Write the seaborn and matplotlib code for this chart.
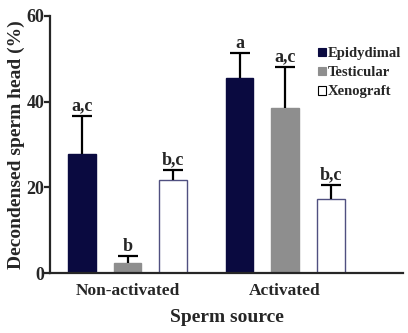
import matplotlib
matplotlib.use("Agg")
import matplotlib.pyplot as plt
import seaborn as sns
import pandas as pd
import numpy as np
from matplotlib.patches import Patch

sources = ["Non-activated", "Activated"]
types = ["Epidydimal", "Testicular", "Xenograft"]
epi_vals = [27.9, 45.6]
test_vals = [2.3, 38.6]
xeno_vals = [21.8, 17.4]
epi_err = [8.8, 5.7]
test_err = [1.6, 9.5]
xeno_err = [2.2, 3.2]
epi_letters = ["a,c", "a"]
test_letters = ["b", "a,c"]
xeno_letters = ["b,c", "b,c"]

vals = [epi_vals, test_vals, xeno_vals]
errs = [epi_err, test_err, xeno_err]
letters = [epi_letters, test_letters, xeno_letters]

rows = []
for t, v in zip(types, vals):
    for s, val in zip(sources, v):
        rows.append({"source": s, "type": t, "value": val})
df = pd.DataFrame(rows)

sns.set_style("ticks")
plt.rcParams["font.family"] = ["Liberation Serif", "DejaVu Serif"]
plt.rcParams["font.weight"] = "bold"

fills = ["#0a0a40", "#8e8e8e", "#ffffff"]
edges = ["#0a0a40", "#8e8e8e", "#505080"]

fig = plt.figure(figsize=(4.08, 3.33), dpi=100)
ax = fig.add_axes([0.1225, 0.18, 0.8655, 0.772])
sns.barplot(data=df, x="source", y="value", hue="type", hue_order=types,
            order=sources, palette=fills, saturation=1, width=0.867, gap=0.39,
            legend=False, ax=ax, errorbar=None)

bar_conts = list(ax.containers)
for i, cont in enumerate(bar_conts):
    xs, tops = [], []
    for bar in cont:
        bar.set_edgecolor(edges[i])
        bar.set_linewidth(1.0)
        xs.append(bar.get_x() + bar.get_width() / 2)
        tops.append(bar.get_height())
    xs = np.array(xs)
    tops = np.array(tops)
    e = np.array(errs[i])
    _, caplines, _ = ax.errorbar(xs, tops, yerr=[np.zeros_like(e), e], fmt="none",
                                 ecolor="black", elinewidth=1.6, capsize=7,
                                 capthick=1.6, zorder=3)
    for cl in caplines:
        if np.allclose(cl.get_ydata(), tops):
            cl.set_visible(False)
    for x, t, ee, lab in zip(xs, tops, e, letters[i]):
        ax.text(x, t + ee + 1.3, lab, ha="center", va="baseline",
                fontsize=13, fontweight="bold")

ax.set_ylim(0, 60)
ax.set_xlim(-0.492, 1.749)
ax.set_yticks([0, 20, 40, 60])
ax.set_yticklabels(["0", "20", "40", "60"], fontsize=13, fontweight="bold")
ax.set_xticks([0, 1])
ax.set_xticklabels(sources, fontsize=12.5, fontweight="bold")
ax.tick_params(axis="x", length=0, pad=7)
ax.tick_params(axis="y", length=4, width=1.6, pad=0)
for s in ["top", "right"]:
    ax.spines[s].set_visible(False)
ax.spines["left"].set_linewidth(1.6)
ax.spines["bottom"].set_linewidth(1.6)
ax.set_xlabel("Sperm source", fontsize=14, fontweight="bold", labelpad=7)
ax.set_ylabel("Decondensed sperm head (%)", fontsize=14, fontweight="bold", labelpad=1)

handles = [Patch(facecolor=f, edgecolor=("black" if i == 2 else f), linewidth=0.8)
           for i, f in enumerate(fills)]
leg = ax.legend(handles, types, loc="upper left", bbox_to_anchor=(0.722, 0.93),
                frameon=False, handlelength=0.55, handleheight=0.55,
                handletextpad=0.1, labelspacing=0.42, prop={"size": 10.5, "weight": "bold"})

fig.savefig("out.png", dpi=100)
